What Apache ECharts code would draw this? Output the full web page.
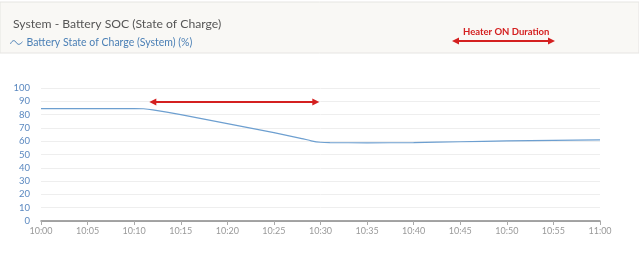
<!DOCTYPE html>
<html><head><meta charset="utf-8">
<script src="https://cdn.jsdelivr.net/npm/echarts@6/dist/echarts.min.js"></script>
<style>html,body{margin:0;padding:0;background:#fff}#c{width:639px;height:273px}</style>
</head><body><div id="c"></div>
<script>
var times = ['10:00','10:05','10:10','10:11','10:12','10:15','10:20','10:25','10:28','10:29','10:30','10:31','10:35','10:40','10:45','10:50','10:55','11:00'];
var socValues = [84.5,84.5,84.5,84.4,83.6,80.0,73.2,66.4,62.0,60.3,59.2,58.9,58.8,58.9,59.6,60.2,60.6,61.0];
var yTicks = [0,10,20,30,40,50,60,70,80,90,100];
var heaterStart = '10:12', heaterEnd = '10:29.5', heaterLevel = 89.5;

function t(s){var p=s.split(':');return Date.UTC(2020,0,1,+p[0],0)+parseFloat(p[1])*60000;}
var data = times.map(function(s,i){return [t(s),socValues[i]];});

var chart = echarts.init(document.getElementById('c'));
chart.setOption({
  animation:false,
  backgroundColor:'#fff',
  graphic:[
    {type:'rect',shape:{x:0,y:2,width:639,height:51},style:{fill:'#f9f8f5',stroke:'#e6e5e2',lineWidth:1},z:-10},
    {type:'text',left:463,top:27,style:{text:'Heater ON Duration',fill:'#d42020',font:'bold 9.5px Lato'}},
    {type:'line',shape:{x1:458,y1:41,x2:549,y2:41},style:{stroke:'#d42020',lineWidth:2}},
    {type:'polygon',shape:{points:[[452,41],[459,37.5],[459,44.5]]},style:{fill:'#d42020'}},
    {type:'polygon',shape:{points:[[555,41],[548,37.5],[548,44.5]]},style:{fill:'#d42020'}}
  ],
  title:{text:'System - Battery SOC (State of Charge)',left:8,top:13,textStyle:{fontFamily:'Lato',fontSize:12.2,fontWeight:'normal',color:'#555'}},
  legend:{left:5,top:32,itemWidth:12,itemHeight:6,itemGap:4,
    icon:'path://M0,5 C2,1 4,1 6,4 C8,7 10,5 12,3',
    itemStyle:{color:'rgba(0,0,0,0)',borderColor:'#4a7fb5',borderWidth:1},
    textStyle:{fontFamily:'Lato',fontSize:10.5,color:'#4a7fb5',padding:[0,0,0,-1]},
    data:['Battery State of Charge (System) (%)']},
  grid:{left:41,right:39,top:88,bottom:52},
  xAxis:{type:'time',min:t('10:00'),max:t('11:00'),interval:5*60000,
    axisLine:{lineStyle:{color:'#888',width:1.5}},
    axisTick:{show:true,length:4,lineStyle:{color:'#aaa'}},
    splitLine:{show:false},
    axisLabel:{color:'#999',fontFamily:'Lato',fontSize:9,margin:6,showMinLabel:true,showMaxLabel:true,
      formatter:function(v){var d=new Date(v);var h=d.getUTCHours(),m=d.getUTCMinutes();return h+':'+(m<10?'0':'')+m;}}},
  yAxis:{type:'value',min:yTicks[0],max:yTicks[yTicks.length-1],interval:10,
    axisLine:{show:false},axisTick:{show:false},
    splitLine:{lineStyle:{color:'#eeeeee'}},
    axisLabel:{color:'#5a88c0',fontFamily:'Lato',fontSize:9.5,margin:11}},
  series:[{name:'Battery State of Charge (System) (%)',type:'line',data:data,showSymbol:false,smooth:0.2,
    lineStyle:{color:'#6d9fd0',width:1.2},itemStyle:{color:'#6d9fd0'},
    markLine:{silent:true,symbol:['triangle','triangle'],symbolSize:[7,7],
      label:{show:false},lineStyle:{color:'#d42020',width:2,type:'solid'},
      data:[[{coord:[t(heaterStart),heaterLevel]},{coord:[t(heaterEnd),heaterLevel]}]]}}]
});
</script></body></html>
